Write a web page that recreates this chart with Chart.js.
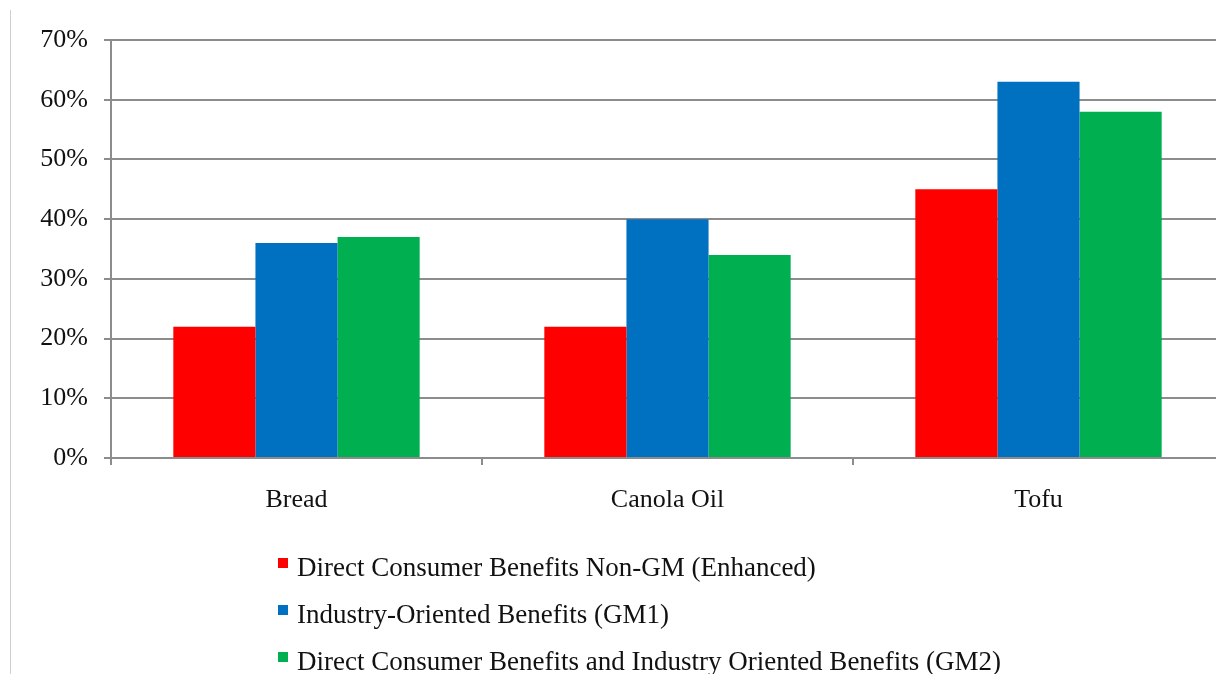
<!DOCTYPE html>
<html>
<head>
<meta charset="utf-8">
<script src="https://cdn.jsdelivr.net/npm/chart.js@4/dist/chart.umd.min.js"></script>
<style>
  html, body { margin: 0; padding: 0; background: #fff; overflow: hidden; }
  canvas { display: block; }
</style>
</head>
<body>
<canvas id="benefits" width="1226" height="674"></canvas>
<script>
const categories = ["Bread", "Canola Oil", "Tofu"];
const seriesNames = [
    "Direct Consumer Benefits Non-GM (Enhanced)",
    "Industry-Oriented Benefits (GM1)",
    "Direct Consumer Benefits and Industry Oriented Benefits (GM2)"
];
const nonGM = [22, 22, 45];
const gm1 = [36, 40, 63];
const gm2 = [37, 34, 58];
const yTicks = [0, 10, 20, 30, 40, 50, 60, 70];

const COLORS = ["#ff0000", "#0070c0", "#00b050"];
const GRID = "#8c8c8c";
const TEXT = "#111";
const FONT = '"Liberation Serif", "Times New Roman", serif';

// thin frame line down the left edge of the slide
const frame = {
    id: "frame",
    beforeDraw(chart) {
        const { ctx } = chart;
        ctx.save();
        ctx.strokeStyle = "#cfcfcf";
        ctx.lineWidth = 1;
        ctx.beginPath();
        ctx.moveTo(10.5, 10);
        ctx.lineTo(10.5, chart.height);
        ctx.stroke();
        ctx.restore();
    }
};

// one legend entry per row, left aligned under the plot
const stackedLegend = {
    id: "stackedLegend",
    afterDraw(chart) {
        const { ctx } = chart;
        ctx.save();
        ctx.font = "27px " + FONT;
        ctx.textBaseline = "alphabetic";
        ctx.textAlign = "left";
        chart.data.datasets.forEach((ds, i) => {
            const base = 576 + i * 47;
            ctx.fillStyle = ds.backgroundColor;
            ctx.fillRect(278, base - 18, 10, 10);
            ctx.fillStyle = TEXT;
            ctx.fillText(ds.label, 297, base);
        });
        ctx.restore();
    }
};

new Chart(document.getElementById("benefits"), {
    type: "bar",
    data: {
        labels: categories,
        datasets: [nonGM, gm1, gm2].map((values, i) => ({
            label: seriesNames[i],
            data: values,
            backgroundColor: COLORS[i],
            borderWidth: 0,
            categoryPercentage: 0.664,
            barPercentage: 1.0
        }))
    },
    options: {
        responsive: false,
        animation: false,
        devicePixelRatio: 1,
        layout: { padding: { top: 40, left: 0, right: 2, bottom: 0 } },
        scales: {
            x: {
                grid: {
                    offset: true,
                    drawOnChartArea: false,
                    drawTicks: true,
                    tickLength: 7,
                    color: GRID,
                    lineWidth: 2
                },
                border: { color: GRID, width: 2 },
                ticks: {
                    color: TEXT,
                    font: { family: FONT, size: 26 },
                    padding: 20,
                    maxRotation: 0
                },
                afterFit(scale) { scale.height = 216; }
            },
            y: {
                min: 0,
                max: 70,
                afterBuildTicks(scale) {
                    scale.ticks = yTicks.map(v => ({ value: v }));
                },
                grid: {
                    color: GRID,
                    lineWidth: 2,
                    drawTicks: true,
                    tickLength: 7
                },
                border: { color: GRID, width: 2 },
                ticks: {
                    color: TEXT,
                    font: { family: FONT, size: 26 },
                    padding: 16,
                    callback: v => v + "%"
                },
                afterFit(scale) { scale.width = 111; }
            }
        },
        plugins: {
            legend: { display: false },
            tooltip: { enabled: false }
        }
    },
    plugins: [frame, stackedLegend]
});
</script>
</body>
</html>
